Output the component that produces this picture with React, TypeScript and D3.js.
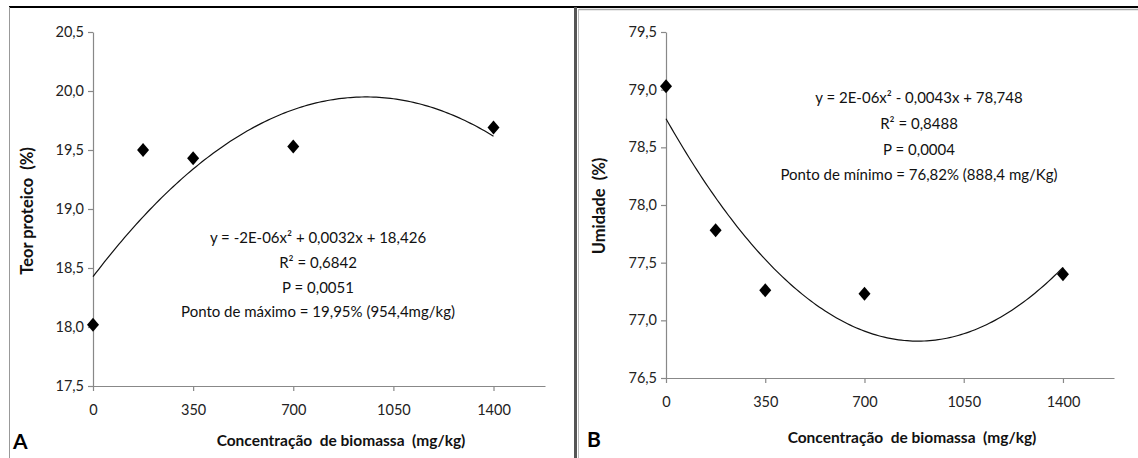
import React, { useEffect, useRef } from "react";
import * as d3 from "d3";

// dose levels (mg/kg)
const doses = [0, 175, 350, 700, 1400];
const xTicks = [0, 350, 700, 1050, 1400];

// panel A: protein content (%)
const proteinValues = [18.02, 19.5, 19.43, 19.53, 19.69];
const proteinTicks = [17.5, 18.0, 18.5, 19.0, 19.5, 20.0, 20.5];
const proteinFit = [-1.673e-6, 0.003193, 18.426]; // a, b, c
const proteinNotes = [
  "y = -2E-06x² + 0,0032x + 18,426",
  "R² = 0,6842",
  "P = 0,0051",
  "Ponto de máximo = 19,95% (954,4mg/kg)",
];

// panel B: moisture (%)
const moistureValues = [79.03, 77.78, 77.26, 77.23, 77.4];
const moistureTicks = [76.5, 77.0, 77.5, 78.0, 78.5, 79.0, 79.5];
const moistureFit = [2.443e-6, -0.004341, 78.748];
const moistureNotes = [
  "y = 2E-06x² - 0,0043x + 78,748",
  "R² = 0,8488",
  "P = 0,0004",
  "Ponto de mínimo = 76,82% (888,4 mg/Kg)",
];

const W = 1138;
const H = 458;
const FONT = "Lato, 'Open Sans', sans-serif";

function drawPanel(svg, opt) {
  const g = svg.append("g");
  const x = d3.scaleLinear().domain([0, 1580]).range(opt.xRange);
  const y = d3.scaleLinear().domain(opt.yDomain).range(opt.yRange);

  const yAxis = g
    .append("g")
    .attr("transform", `translate(${opt.xRange[0]},0)`)
    .call(
      d3
        .axisLeft(y)
        .tickValues(opt.yTicks)
        .tickSize(5)
        .tickSizeOuter(0)
        .tickFormat((d) => d3.format(".1f")(d).replace(".", ","))
    );
  const xAxis = g
    .append("g")
    .attr("transform", `translate(0,${opt.yRange[0]})`)
    .call(
      d3
        .axisBottom(x)
        .tickValues(xTicks)
        .tickSize(5)
        .tickSizeOuter(0)
        .tickFormat((d) => String(d))
    );

  [xAxis, yAxis].forEach((a) => {
    a.selectAll("path, line").attr("stroke", "#888").attr("stroke-width", 1.2);
    a.selectAll("text")
      .style("font-family", FONT)
      .style("font-size", "14.5px")
      .attr("fill", "#222");
  });
  yAxis.selectAll("text").attr("x", -9);
  xAxis.selectAll("text").attr("y", 19);

  // fitted quadratic
  const [a, b, c] = opt.fit;
  const curve = d3.range(0, 1401, 10).map((v) => [v, a * v * v + b * v + c]);
  g.append("path")
    .datum(curve)
    .attr("fill", "none")
    .attr("stroke", "#111")
    .attr("stroke-width", 1.2)
    .attr(
      "d",
      d3
        .line()
        .x((d) => x(d[0]))
        .y((d) => y(d[1]))
    );

  // diamonds
  g.selectAll("path.pt")
    .data(doses.map((d, i) => [d, opt.values[i]]))
    .enter()
    .append("path")
    .attr("class", "pt")
    .attr("d", "M0,-7L6,0L0,7L-6,0Z")
    .attr("fill", "#000")
    .attr("transform", (d) => `translate(${x(d[0])},${y(d[1])})`);

  // equation notes
  opt.notes.forEach((t, i) => {
    g.append("text")
      .attr("x", opt.noteX)
      .attr("y", opt.noteY + i * opt.noteGap)
      .attr("text-anchor", "middle")
      .attr("dy", "0.35em")
      .style("font-family", FONT)
      .style("font-size", "15px")
      .attr("fill", "#111")
      .text(t);
  });

  // axis titles
  g.append("text")
    .attr("x", opt.xTitle[0])
    .attr("y", opt.xTitle[1])
    .attr("text-anchor", "middle")
    .attr("dy", "0.35em")
    .style("font-family", FONT)
    .style("font-size", "15.5px")
    .style("font-weight", "bold")
    .attr("fill", "#111")
    .text("Concentração\u00a0 de biomassa\u00a0 (mg/kg)");
  g.append("text")
    .attr("transform", `translate(${opt.yTitle[0]},${opt.yTitle[1]}) rotate(-90)`)
    .attr("text-anchor", "middle")
    .attr("dy", "0.35em")
    .style("font-family", FONT)
    .style("font-size", "16.5px")
    .style("font-weight", "bold")
    .attr("fill", "#111")
    .text(opt.yLabel);

  // panel letter
  g.append("text")
    .attr("x", opt.letter[0])
    .attr("y", opt.letter[1])
    .style("font-family", FONT)
    .style("font-size", "21px")
    .style("font-weight", "bold")
    .attr("fill", "#000")
    .text(opt.letterText);
}

export default function App() {
  const svgRef = useRef(null);

  useEffect(() => {
    const svg = d3.select(svgRef.current);
    svg.selectAll("*").remove();

    svg.append("rect").attr("width", W).attr("height", H).attr("fill", "#fff");

    // frame lines
    svg.append("line").attr("x1", 9).attr("x2", W).attr("y1", 7).attr("y2", 7)
      .attr("stroke", "#000").attr("stroke-width", 2);
    svg.append("line").attr("x1", 579).attr("x2", W).attr("y1", 9.5).attr("y2", 9.5)
      .attr("stroke", "#aaa").attr("stroke-width", 1.5);
    svg.append("line").attr("x1", 9.5).attr("x2", 9.5).attr("y1", 7).attr("y2", H)
      .attr("stroke", "#999").attr("stroke-width", 1);
    svg.append("line").attr("x1", 575.5).attr("x2", 575.5).attr("y1", 7).attr("y2", H)
      .attr("stroke", "#555").attr("stroke-width", 3);
    svg.append("line").attr("x1", 578.5).attr("x2", 578.5).attr("y1", 9).attr("y2", H)
      .attr("stroke", "#bbb").attr("stroke-width", 1);

    drawPanel(svg, {
      xRange: [93, 545],
      yDomain: [17.5, 20.5],
      yRange: [386, 32],
      yTicks: proteinTicks,
      values: proteinValues,
      fit: proteinFit,
      notes: proteinNotes,
      noteX: 318,
      noteY: 238,
      noteGap: 24.7,
      xTitle: [341, 441],
      yTitle: [27, 211],
      yLabel: "Teor proteico\u00a0 (%)",
      letter: [13, 449],
      letterText: "A",
    });

    drawPanel(svg, {
      xRange: [666, 1114],
      yDomain: [76.5, 79.5],
      yRange: [378, 32],
      yTicks: moistureTicks,
      values: moistureValues,
      fit: moistureFit,
      notes: moistureNotes,
      noteX: 919,
      noteY: 98,
      noteGap: 25.7,
      xTitle: [912, 438],
      yTitle: [599, 206],
      yLabel: "Umidade\u00a0 (%)",
      letter: [587, 447],
      letterText: "B",
    });
  }, []);

  return (
    <svg
      ref={svgRef}
      width={W}
      height={H}
      style={{ position: "absolute", left: 0, top: 0 }}
    />
  );
}
